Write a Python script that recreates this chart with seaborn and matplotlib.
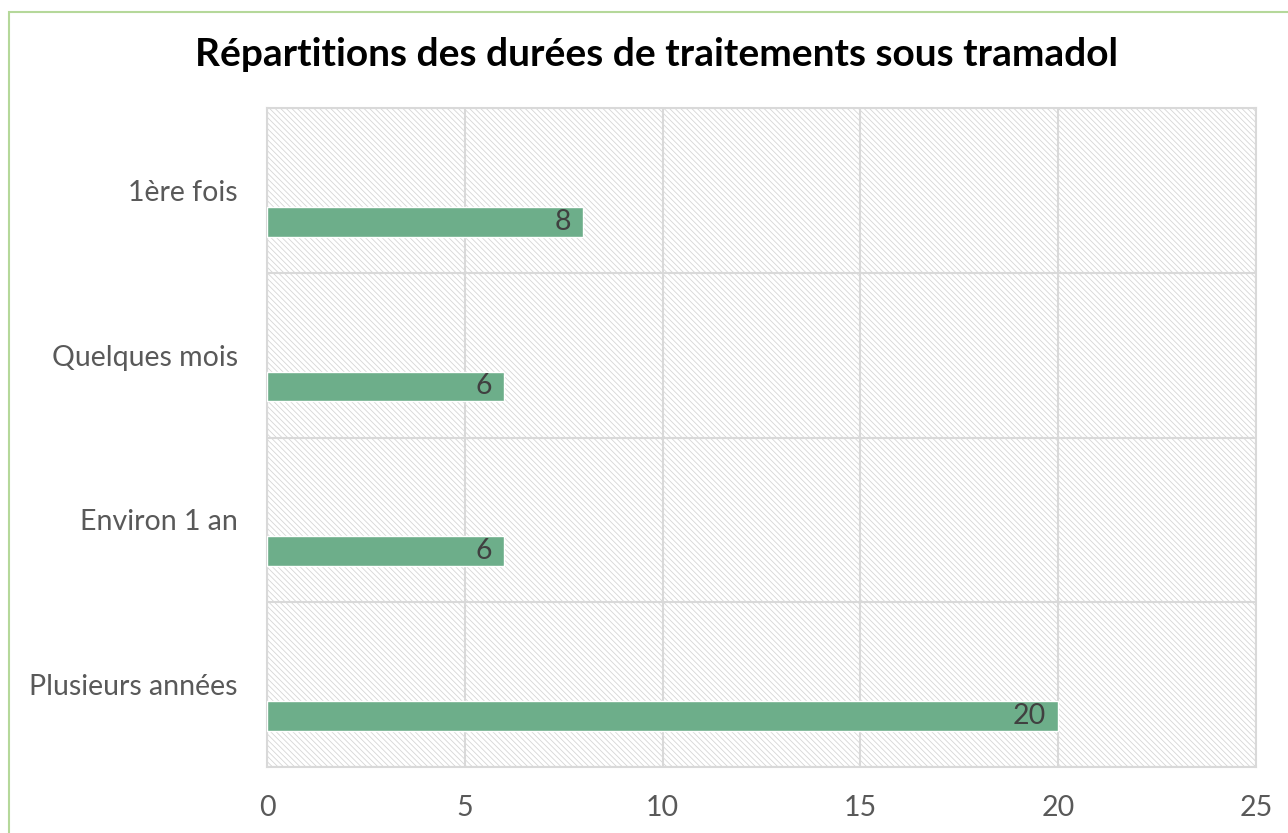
import matplotlib
matplotlib.use("Agg")
import matplotlib.pyplot as plt
import seaborn as sns
import pandas as pd
import numpy as np
from matplotlib.patches import Rectangle

categories = ["1ère fois", "Quelques mois", "Environ 1 an", "Plusieurs années"]
values = [8, 6, 6, 20]
xticks = [0, 5, 10, 15, 20, 25]
title = "Répartitions des durées de traitements sous tramadol"

sns.set_theme(style="white")
plt.rcParams['font.family'] = ['Lato', 'DejaVu Sans']
plt.rcParams['hatch.linewidth'] = 0.6
plt.rcParams['hatch.color'] = '#d6d6d6'

df = pd.DataFrame({"cat": categories, "val": values})

fig = plt.figure(figsize=(12.88, 8.33), dpi=100)
ax = fig.add_axes([267/1288, 1-767/833, (1256-267)/1288, (767-108)/833])

ax.patch.set_facecolor('white')
ax.patch.set_hatch('\\\\\\\\\\\\')
ax.patch.set_edgecolor('#d6d6d6')

sns.barplot(data=df, x="val", y="cat", orient="h", color="#6DAE8A",
            width=0.18, saturation=1, ax=ax, zorder=3)

offset = 0.19
ax.set_ylim(len(categories) - offset - 0.5, -offset - 0.5)
ax.set_xlim(0, 25)
ax.set_yticks(np.arange(len(categories)) - offset)
ax.set_yticklabels(categories)
ax.set_yticks(np.arange(len(categories) + 1) - offset - 0.5, minor=True)
ax.set_xticks(xticks)
ax.set_xticklabels([str(t) for t in xticks])
ax.set_xlabel("")
ax.set_ylabel("")

ax.grid(axis='x', color='#d9d9d9', linewidth=1.5, zorder=1)
ax.grid(axis='y', which='minor', color='#d9d9d9', linewidth=1.5, zorder=1)
ax.grid(axis='y', which='major', visible=False)
ax.set_axisbelow(True)

ax.tick_params(axis='y', which='major', length=0, pad=21, labelsize=20.5, labelcolor='#595959')
ax.tick_params(axis='y', which='minor', length=7, width=1.5, color='#d9d9d9')
ax.tick_params(axis='x', length=0, pad=20, labelsize=20.5, labelcolor='#595959')

for s in ax.spines.values():
    s.set_color('#d9d9d9')
    s.set_linewidth(1.5)

for i, v in enumerate(values):
    ax.text(v - 0.3, i, str(v), ha='right', va='center', fontsize=20.5,
            color='#404040', zorder=4)

fig.text(0.51, 1-55/833, title, ha='center', va='center', fontsize=28,
         fontweight='bold', color='#000000')

fig.patches.append(Rectangle((9/1288, -0.1), 1.2, 1-12/833 + 0.1,
                             transform=fig.transFigure, fill=False,
                             edgecolor='#B5D89A', linewidth=1.5))

fig.savefig("out.png", dpi=100)
